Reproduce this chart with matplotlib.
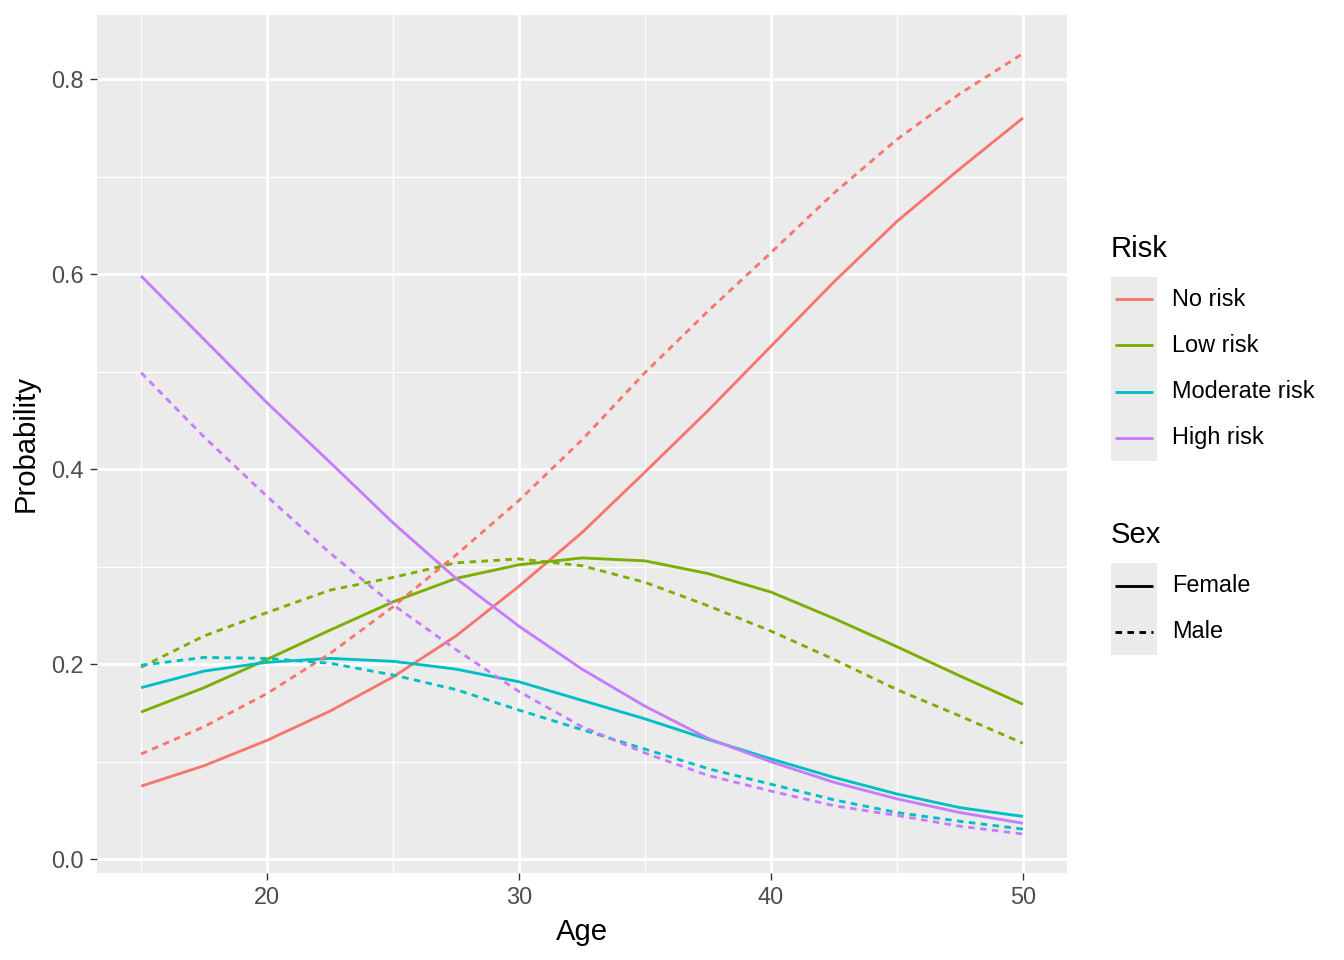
import matplotlib
matplotlib.use("Agg")
import matplotlib.pyplot as plt
from matplotlib.patches import Rectangle

plt.rcParams["font.family"] = ["Liberation Sans", "DejaVu Sans"]

# predicted probabilities, every 2.5 years of age
ages = [15, 17.5, 20, 22.5, 25, 27.5, 30, 32.5, 35, 37.5, 40, 42.5, 45, 47.5, 50]

female_no = [0.075, 0.096, 0.122, 0.152, 0.187, 0.229, 0.280, 0.335, 0.397, 0.460, 0.526, 0.592, 0.654, 0.708, 0.760]
female_low = [0.151, 0.176, 0.205, 0.235, 0.264, 0.288, 0.302, 0.309, 0.306, 0.293, 0.274, 0.247, 0.218, 0.188, 0.159]
female_mod = [0.176, 0.193, 0.202, 0.206, 0.203, 0.195, 0.182, 0.163, 0.144, 0.123, 0.103, 0.084, 0.067, 0.053, 0.044]
female_high = [0.598, 0.533, 0.468, 0.407, 0.345, 0.288, 0.239, 0.195, 0.157, 0.124, 0.100, 0.079, 0.062, 0.048, 0.037]

male_no = [0.108, 0.136, 0.170, 0.211, 0.259, 0.312, 0.368, 0.430, 0.499, 0.562, 0.622, 0.683, 0.738, 0.785, 0.826]
male_low = [0.197, 0.229, 0.253, 0.276, 0.289, 0.304, 0.308, 0.301, 0.284, 0.260, 0.234, 0.205, 0.174, 0.147, 0.119]
male_mod = [0.199, 0.207, 0.206, 0.201, 0.189, 0.174, 0.153, 0.133, 0.113, 0.093, 0.077, 0.061, 0.048, 0.039, 0.031]
male_high = [0.499, 0.433, 0.372, 0.314, 0.261, 0.215, 0.172, 0.136, 0.109, 0.086, 0.070, 0.055, 0.045, 0.034, 0.026]

risk_levels = ["No risk", "Low risk", "Moderate risk", "High risk"]
sex_levels = ["Female", "Male"]
colors = ["#F8766D", "#7CAE00", "#00BFC4", "#C77CFF"]

series = {
    "Female": [female_no, female_low, female_mod, female_high],
    "Male": [male_no, male_low, male_mod, male_high],
}

LW = 2.05
DASH = (2.3, 1.9)

fig = plt.figure(figsize=(13.44, 9.6), dpi=100)
ax = fig.add_axes([97 / 1344, 1 - 873 / 960, (1067 - 97) / 1344, (873 - 15) / 960])
ax.set_facecolor("#EBEBEB")

for sex in sex_levels:
    for i, vals in enumerate(series[sex]):
        ln, = ax.plot(ages, vals, color=colors[i], lw=LW, solid_capstyle="butt",
                      dash_capstyle="butt", zorder=3)
        if sex == "Male":
            ln.set_linestyle((0, DASH))

ax.set_xlim(13.25, 51.75)
ax.set_ylim(-0.014, 0.8656)
ax.set_xticks([20, 30, 40, 50])
ax.set_xticks([15, 25, 35, 45], minor=True)
ax.set_yticks([0.0, 0.2, 0.4, 0.6, 0.8])
ax.set_yticks([0.1, 0.3, 0.5, 0.7], minor=True)
ax.set_yticklabels(["0.0", "0.2", "0.4", "0.6", "0.8"])
ax.grid(which="major", color="white", lw=2.05)
ax.grid(which="minor", color="white", lw=1.0)
ax.set_axisbelow(True)
for s in ax.spines.values():
    s.set_visible(False)
ax.tick_params(which="major", length=5.3, width=1.0, color="#333333",
               labelsize=16.9, labelcolor="#4D4D4D", pad=4.2)
ax.tick_params(which="minor", length=0)
ax.set_xlabel("Age", fontsize=21.1, labelpad=6)
ax.set_ylabel("Probability", fontsize=21.1, labelpad=8)

# legends drawn in figure pixel space, ggplot style
lg = fig.add_axes([0, 0, 1, 1], zorder=5)
lg.set_xlim(0, 1344)
lg.set_ylim(960, 0)
lg.axis("off")
lg.patch.set_alpha(0)

lg.text(1111, 249, "Risk", fontsize=21.1, va="center", ha="left")
lg.add_patch(Rectangle((1111, 277), 46, 184, color="#EBEBEB", lw=0))
for i, lab in enumerate(risk_levels):
    y = 299 + i * 46.3
    lg.plot([1115, 1153], [y, y], color=colors[i], lw=LW, solid_capstyle="butt")
    lg.text(1172, y, lab, fontsize=16.9, va="center", ha="left")

lg.text(1111, 535, "Sex", fontsize=21.1, va="center", ha="left")
lg.add_patch(Rectangle((1111, 563), 46, 92, color="#EBEBEB", lw=0))
for i, lab in enumerate(sex_levels):
    y = 586 + i * 46
    ln, = lg.plot([1115, 1153], [y, y], color="black", lw=LW, solid_capstyle="butt",
                  dash_capstyle="butt")
    if lab == "Male":
        ln.set_linestyle((0, DASH))
    lg.text(1172, y, lab, fontsize=16.9, va="center", ha="left")

fig.savefig("out.png", dpi=100)
